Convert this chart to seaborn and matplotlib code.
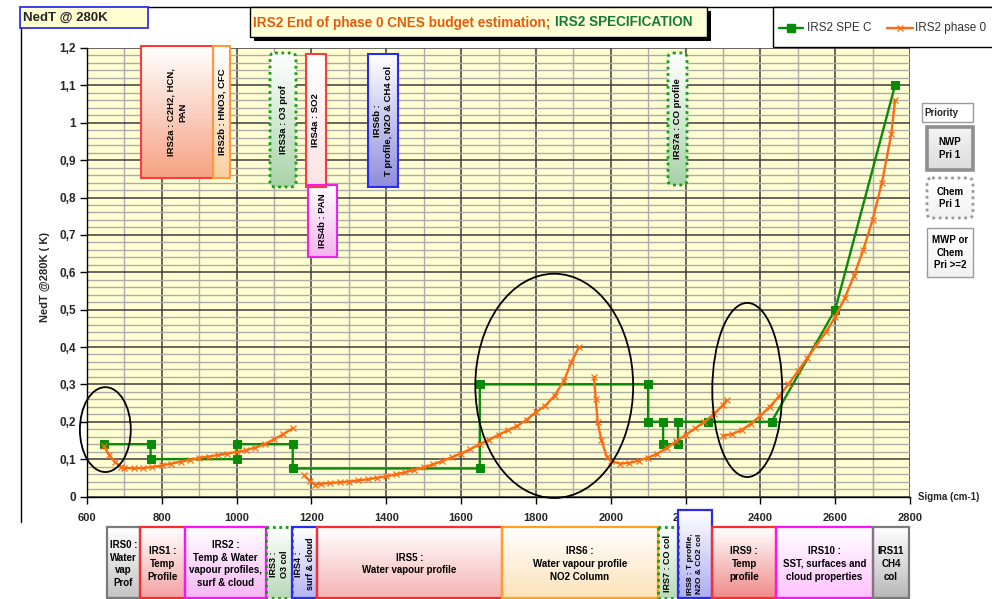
import numpy as np
import pandas as pd
import matplotlib
matplotlib.use("Agg")
import matplotlib.pyplot as plt
import matplotlib.colors as mcolors
import seaborn as sns
from matplotlib.patches import Rectangle, Ellipse, FancyBboxPatch
from matplotlib.ticker import MultipleLocator, FuncFormatter
from matplotlib import font_manager

# ---------------------------------------------------------------- data
# IRS2 specification (step profile of NedT @ 280K versus wavenumber)
spec_sigma = [645, 770, 770, 1000, 1000, 1150, 1150, 1650, 1650, 2100, 2100,
              2140, 2140, 2180, 2180, 2260, 2430, 2600, 2760]
spec_nedt = [0.14, 0.14, 0.10, 0.10, 0.14, 0.14, 0.075, 0.075, 0.30, 0.30, 0.20,
             0.20, 0.14, 0.14, 0.20, 0.20, 0.20, 0.50, 1.10]

# IRS2 end of phase 0 budget estimation, four spectral segments
p0_seg1_sigma = [645, 660, 675, 690, 700, 725, 750, 775, 800, 825, 850, 875,
                 900, 925, 950, 975, 1000, 1025, 1050, 1075, 1100, 1125, 1150]
p0_seg1_nedt = [0.135, 0.11, 0.092, 0.08, 0.077, 0.075, 0.076, 0.079, 0.083, 0.088,
                0.093, 0.098, 0.103, 0.107, 0.111, 0.115, 0.119, 0.124, 0.131,
                0.14, 0.153, 0.167, 0.182]

p0_seg2_sigma = [1180, 1195, 1210, 1225, 1250, 1275, 1300, 1325, 1350, 1375, 1400,
                 1425, 1450, 1475, 1500, 1525, 1550, 1575, 1600, 1625, 1650, 1675,
                 1700, 1725, 1750, 1775, 1800, 1825, 1850, 1875, 1895, 1915]
p0_seg2_nedt = [0.057, 0.042, 0.032, 0.034, 0.036, 0.038, 0.040, 0.043, 0.046,
                0.050, 0.054, 0.059, 0.065, 0.071, 0.078, 0.086, 0.095, 0.105,
                0.115, 0.127, 0.140, 0.152, 0.165, 0.177, 0.189, 0.205, 0.226,
                0.243, 0.27, 0.31, 0.36, 0.40]

p0_seg3_sigma = [1955, 1960, 1965, 1975, 1990, 2000, 2025, 2050, 2075, 2100, 2125,
                 2150, 2175, 2200, 2225, 2250, 2275, 2300, 2310]
p0_seg3_nedt = [0.32, 0.26, 0.20, 0.15, 0.105, 0.095, 0.088, 0.090, 0.096, 0.104,
                0.115, 0.130, 0.148, 0.165, 0.182, 0.199, 0.220, 0.245, 0.258]

p0_seg4_sigma = [2300, 2325, 2350, 2375, 2400, 2425, 2450, 2475, 2500, 2525, 2550,
                 2575, 2600, 2625, 2650, 2675, 2700, 2725, 2750, 2760]
p0_seg4_nedt = [0.163, 0.167, 0.178, 0.195, 0.216, 0.240, 0.268, 0.300, 0.335,
                0.37, 0.405, 0.44, 0.48, 0.53, 0.59, 0.66, 0.74, 0.84, 0.97, 1.06]

# circled regions of interest: centre sigma, centre NedT, width, height
circle_sigma = [649, 1849, 2365]
circle_nedt = [0.179, 0.296, 0.285]
circle_w = [136, 422, 187]
circle_h = [0.227, 0.60, 0.466]

x_ticks = [600, 800, 1000, 1200, 1400, 1600, 1800, 2000, 2200, 2400, 2600, 2800]

# ---------------------------------------------------------------- style
sns.set_style("white")
names = {f.name for f in font_manager.fontManager.ttflist}
BASE = "Liberation Sans" if "Liberation Sans" in names else "DejaVu Sans"
plt.rcParams["font.family"] = [BASE, "DejaVu Sans"]

GREEN = "#0A8A0A"
ORANGE = "#FF6A10"
W, H = 992, 599

fig = plt.figure(figsize=(W / 100, H / 100), dpi=100)
fig.patch.set_facecolor("white")

AX_L, AX_R, AX_T, AX_B = 87, 910, 48, 496.5
ax = fig.add_axes([AX_L / W, 1 - AX_B / H, (AX_R - AX_L) / W, (AX_B - AX_T) / H])
ax.set_facecolor("#FFFFD2")

# ---------------------------------------------------------------- series
spec_df = pd.DataFrame({"sigma": spec_sigma, "nedt": spec_nedt})
sns.lineplot(data=spec_df, x="sigma", y="nedt", sort=False, estimator=None,
             color=GREEN, lw=1.7, marker="s", markersize=5.5, markeredgecolor=GREEN,
             ax=ax, zorder=4)

segments = [(p0_seg1_sigma, p0_seg1_nedt), (p0_seg2_sigma, p0_seg2_nedt),
            (p0_seg3_sigma, p0_seg3_nedt), (p0_seg4_sigma, p0_seg4_nedt)]
p0_df = pd.concat([pd.DataFrame({"sigma": s, "nedt": v, "seg": i})
                   for i, (s, v) in enumerate(segments)], ignore_index=True)
sns.lineplot(data=p0_df, x="sigma", y="nedt", units="seg", estimator=None, sort=False,
             color=ORANGE, lw=1.7, marker="x", markersize=4, markeredgewidth=0.9,
             markeredgecolor=ORANGE, ax=ax, zorder=5)

for cx, cy, cw, ch in zip(circle_sigma, circle_nedt, circle_w, circle_h):
    ax.add_patch(Ellipse((cx, cy), cw, ch, fill=False, ec="black", lw=1.3,
                         zorder=6, clip_on=False))

# ---------------------------------------------------------------- axes
ax.set_xlim(600, 2800)
ax.set_ylim(0, 1.2)
ax.set_xticks(x_ticks)
ax.xaxis.set_minor_locator(MultipleLocator(100))
ax.yaxis.set_major_locator(MultipleLocator(0.1))
ax.yaxis.set_minor_locator(MultipleLocator(0.02))
ax.set_axisbelow(True)
ax.grid(which="major", color="#3c3c3c", lw=1.1)
ax.grid(which="minor", color="#ababab", lw=1.0)
ax.set_xlabel("")
ax.set_ylabel("")


def comma_fmt(v, _):
    s = f"{v:.1f}".rstrip("0").rstrip(".")
    return s.replace(".", ",")


ax.yaxis.set_major_formatter(FuncFormatter(comma_fmt))
ax.tick_params(axis="both", which="major", direction="out", length=5, width=1,
               color="black", labelsize=8.5, pad=3)
ax.tick_params(axis="x", which="major", pad=7, labelsize=8)
ax.tick_params(which="minor", length=0)
ax.tick_params(axis="y", left=True)
ax.tick_params(axis="x", bottom=True)
for lab in ax.get_xticklabels() + ax.get_yticklabels():
    lab.set_fontweight("bold")
for side in ("top", "right"):
    ax.spines[side].set_visible(False)
for side in ("left", "bottom"):
    ax.spines[side].set_color("black")
    ax.spines[side].set_linewidth(1)

# ---------------------------------------------------------------- annotation layer (pixel coordinates)
ov = fig.add_axes([0, 0, 1, 1], zorder=10)
ov.patch.set_alpha(0)
ov.axis("off")
ov.set_xlim(0, W)
ov.set_ylim(H, 0)
ov.set_autoscale_on(False)


def grad_box(x0, y0, x1, y1, edge, top_col, bot_col, ls="-", lw=1.5, rounded=False):
    c0 = np.array(mcolors.to_rgb(top_col))
    c1 = np.array(mcolors.to_rgb(bot_col))
    t = np.linspace(0, 1, 64)[:, None]
    img = (c0 * (1 - t) + c1 * t)[:, None, :]
    im = ov.imshow(img, extent=(x0, x1, y1, y0), origin="upper", aspect="auto",
                   interpolation="bilinear", zorder=1)
    if rounded:
        patch = FancyBboxPatch((x0, y0), x1 - x0, y1 - y0,
                               boxstyle="round,pad=0,rounding_size=5",
                               fill=False, ec=edge, lw=lw, ls=ls, zorder=2)
    else:
        patch = Rectangle((x0, y0), x1 - x0, y1 - y0, fill=False, ec=edge,
                          lw=lw, ls=ls, zorder=2)
    ov.add_patch(patch)
    im.set_clip_path(patch)
    return patch


def box_text(x, y, s, rot=0, size=7, color="black"):
    ov.text(x, y, s, ha="center", va="center", rotation=rot, fontsize=size,
            fontweight="bold", color=color, multialignment="center",
            linespacing=1.35, zorder=3)


DOT = (0, (1, 1.3))

# boxes inside the plot: secondary channels
top_boxes = [
    (141, 46, 213, 178, "#FF3A3A", "#F6A283", "-", False, "IRS2a : C2H2, HCN,\nPAN"),
    (213, 46, 230, 178, "#FF9A3C", "#F9CFA0", "-", False, "IRS2b : HNO3, CFC"),
    (270, 53, 296, 187, "#10A010", "#A9D3A9", DOT, True, "IRS3a : O3 prof"),
    (306, 54, 326, 187, "#FF3A3A", "#FBE3E3", "-", False, "IRS4a : SO2"),
    (308, 185, 337, 257, "#F020F0", "#F4B4EE", "-", False, "IRS4b : PAN"),
    (368, 54, 398, 187, "#2A2AF0", "#8E8EDC", "-", False, "IRS6b :\nT profile, N2O & CH4 col"),
    (668, 53, 687, 185, "#10A010", "#A9D3A9", DOT, True, "IRS7a : CO profile"),
]
for x0, y0, x1, y1, ec, bc, ls, rnd, s in top_boxes:
    grad_box(x0, y0, x1, y1, ec, "white", bc, ls=ls, lw=2.0 if ls is DOT else 1.5,
             rounded=rnd)
    box_text((x0 + x1) / 2, (y0 + y1) / 2, s, rot=90, size=6.8)

# channel boxes below the axis
bottom_boxes = [
    (107, 140, 527, "#7A7A7A", "#C4C4C4", "-", 0, 7, "IRS0 :\nWater\nvap\nProf"),
    (140, 185, 527, "#FF2A2A", "#F4A2A2", "-", 0, 7, "IRS1 :\nTemp\nProfile"),
    (185, 266, 527, "#FF10FF", "#F6B6F6", "-", 0, 7, "IRS2 :\nTemp & Water\nvapour profiles,\nsurf & cloud"),
    (266, 292, 527, "#10A010", "#B8DAB8", DOT, 90, 6.5, "IRS3 :\nO3 col"),
    (292, 317, 527, "#2A2AF0", "#B4B4F4", "-", 90, 6.5, "IRS4 :\nsurf & cloud"),
    (317, 502, 527, "#FF2A2A", "#F6B4B4", "-", 0, 7, "IRS5 :\nWater vapour profile"),
    (502, 658, 527, "#FFA020", "#FCE2B8", "-", 0, 7, "IRS6 :\nWater vapour profile\nNO2 Column"),
    (658, 678, 527, "#10A010", "#B8DAB8", DOT, 90, 6.5, "IRS7 : CO col"),
    (678, 712, 510, "#2A2AF0", "#ADADF2", "-", 90, 6.0, "IRS8 : T profile,\nN2O & CO2 col"),
    (712, 776, 527, "#FF2A2A", "#F08A8A", "-", 0, 7, "IRS9 :\nTemp\nprofile"),
    (776, 873, 527, "#FF10FF", "#FFC2FF", "-", 0, 7, "IRS10 :\nSST, surfaces and\ncloud properties"),
    (873, 909, 527, "#7A7A7A", "#B8B8B8", "-", 0, 7, "IRS11\nCH4\ncol"),
]
for x0, x1, y0, ec, bc, ls, rot, fs, s in bottom_boxes:
    grad_box(x0, y0, x1, 598, ec, "white", bc, ls=ls, lw=2.0 if ls is DOT else 1.6)
    box_text((x0 + x1) / 2, 564, s, rot=rot, size=fs)

# priority key
ov.add_patch(Rectangle((922, 103), 51, 19, fc="white", ec="#9a9a9a", lw=1, zorder=2))
ov.text(924, 112.5, "Priority", ha="left", va="center", fontsize=7,
        fontweight="bold", zorder=3)
grad_box(927, 127, 973, 170, "#8f8f8f", "#f4f4f4", "#dcdcdc", lw=2.6)
box_text(950, 148.5, "NWP\nPri 1", size=7)
grad_box(927, 178, 973, 218, "#9a9a9a", "white", "#f2f2f2", ls=DOT, lw=2.0, rounded=True)
box_text(950, 198, "Chem\nPri 1", size=7)
grad_box(927, 228, 973, 277, "#9a9a9a", "white", "#f2f2f2", lw=1.0)
box_text(950, 252.5, "MWP or\nChem\nPri >=2", size=7)

# outer frame
ov.plot([21, 21], [7, 522], color="black", lw=1, zorder=1)
ov.plot([21, 992], [7, 7], color="black", lw=1, zorder=1)

# top-left label
ov.add_patch(Rectangle((20, 7), 128, 21, fc="#FFFFD2", ec="#3030F0", lw=1.3, zorder=2))
ov.text(23, 18, "NedT @ 280K", ha="left", va="center", fontsize=9.5,
        fontweight="bold", zorder=3)

# title box with shadow
ov.add_patch(Rectangle((254, 11), 457, 30, fc="black", ec="none", zorder=2))
ov.add_patch(Rectangle((250, 7), 457, 30, fc="#FFFFD8", ec="black", lw=1, zorder=3))
t1 = ov.text(253, 22.5, "IRS2 End of phase 0 CNES budget estimation;", ha="left",
             va="center", fontsize=9.8, fontweight="bold", color="#E85A0C", zorder=4)
fig.canvas.draw()
bb = t1.get_window_extent(renderer=fig.canvas.get_renderer())
x_end = ov.transData.inverted().transform((bb.x1, bb.y0))[0]
ov.text(x_end + 5, 22.5, "IRS2 SPECIFICATION", ha="left", va="center", fontsize=9.8,
        fontweight="bold", color="#157A3A", zorder=4)

# series key
ov.add_patch(Rectangle((773, 7), 240, 40, fc="white", ec="black", lw=1, zorder=2,
                       clip_on=False))
ov.plot([779, 803], [28, 28], color=GREEN, lw=1.7, zorder=3)
ov.plot([791], [28], marker="s", markersize=5.5, color=GREEN, zorder=3)
ov.text(807, 28, "IRS2 SPE C", ha="left", va="center", fontsize=8.5,
        color="#333333", zorder=3)
ov.plot([887, 913], [28, 28], color=ORANGE, lw=1.7, zorder=3)
ov.plot([900], [28], marker="x", markersize=4.5, markeredgewidth=0.9, color=ORANGE, zorder=3)
ov.text(915, 28, "IRS2 phase 0", ha="left", va="center", fontsize=8.5,
        color="#333333", zorder=3)

# axis titles
ov.text(45, 277, "NedT @280K ( K)", rotation=90, ha="center", va="center",
        fontsize=8, fontweight="bold", zorder=3)
ov.text(918, 497, "Sigma (cm-1)", ha="left", va="center", fontsize=7,
        fontweight="bold", zorder=3)

ov.set_xlim(0, W)
ov.set_ylim(H, 0)

fig.savefig("out.png", dpi=100, facecolor="white")
